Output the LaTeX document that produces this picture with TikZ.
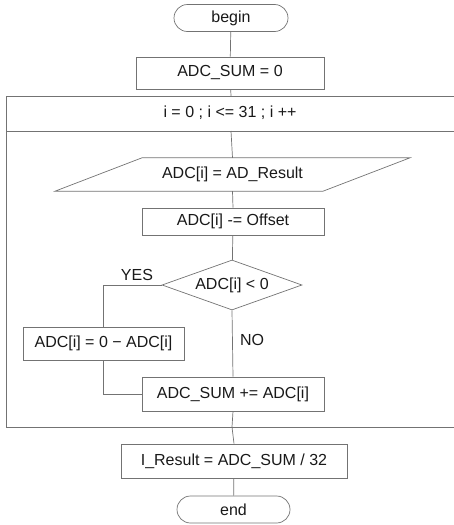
\documentclass[tikz,border=0pt]{standalone}
\usepackage{fontspec}
\setmainfont{Liberation Sans}
\usetikzlibrary{shapes.geometric,shapes.misc}
\begin{document}
\begin{tikzpicture}[x=1pt,y=-1pt,
  ln/.style={draw=black!55,line width=0.7pt},
  txt/.style={font=\fontsize{16}{18}\selectfont,text=black!90},
  term/.style={ln,txt,rounded rectangle,minimum width=114pt,minimum height=27pt,inner sep=0pt},
  proc/.style={ln,txt,rectangle,inner sep=0pt},
  dec/.style={ln,txt,diamond,minimum width=140pt,minimum height=50pt,inner sep=0pt,aspect=2.8},
  lbl/.style={txt,inner sep=0pt}]
\useasboundingbox (0,0) rectangle (454,525);
% loop frame
\draw[ln] (454,96) -- (6,96) -- (6,427) -- (454,427);
\draw[ln] (6,131) -- (454,131);
\node[lbl] (loop) at (230,113) {i = 0 ; i <= 31 ; i ++};
\coordinate (looptop) at (231,96);
\coordinate (loophead) at (231,131);
\coordinate (loopbot) at (232,427);
% nodes
\node[term] (begin) at (231,18) {begin};
\node[proc,minimum width=188pt,minimum height=32pt] (init) at (230,73) {ADC\_SUM = 0};
\node[txt,inner sep=0pt,minimum width=268pt,minimum height=33pt] (inp) at (232.5,174.5) {ADC[i] = AD\_Result};
\draw[ln] ([xshift=-90.5pt]inp.north) -- ([xshift=177.5pt]inp.north) -- ([xshift=90.5pt]inp.south) -- ([xshift=-177.5pt]inp.south) -- cycle;
\node[proc,minimum width=182pt,minimum height=27pt] (off) at (233,221.5) {ADC[i] -= Offset};
\node[dec] (cmp) at (232,285) {ADC[i] < 0};
\node[proc,minimum width=161pt,minimum height=33pt] (neg) at (103.5,343.5) {ADC[i] = 0 − ADC[i]};
\node[proc,minimum width=182pt,minimum height=34pt] (sum) at (233,394) {ADC\_SUM += ADC[i]};
\node[proc,minimum width=226pt,minimum height=34pt] (res) at (234,461) {I\_Result = ADC\_SUM / 32};
\node[term,minimum width=113pt] (end) at (233.5,509.5) {end};
\node[lbl] (yes) at (137,275) {YES};
\node[lbl] (no) at (252,340) {NO};
% connectors
\draw[ln] (begin) -- (init);
\draw[ln] (init) -- (looptop);
\draw[ln] (loophead) -- (inp.north);
\draw[ln] (inp.south) -- (off.north);
\draw[ln] (off) -- (cmp);
\draw[ln] (cmp.west) -| (neg.north);
\draw[ln] (cmp.south) -- (sum.north);
\draw[ln] (neg.south) |- (sum.west);
\draw[ln] (sum.south) -- (loopbot);
\draw[ln] (loopbot) -- (res.north);
\draw[ln] (res) -- (end);
\end{tikzpicture}
\end{document}
